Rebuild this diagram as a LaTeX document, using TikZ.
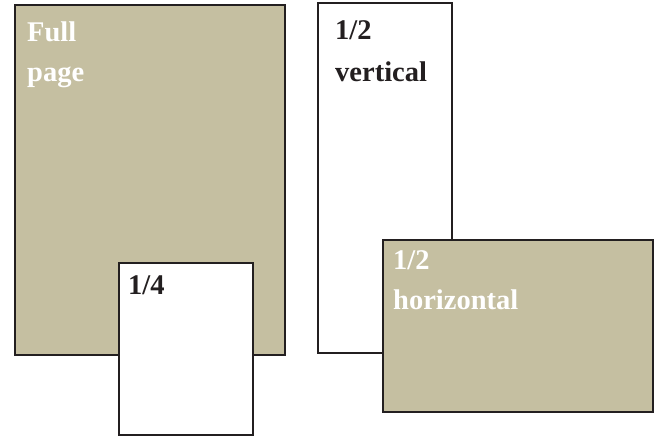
\documentclass[tikz,border=0pt]{standalone}
\usepackage{fontspec}
\setmainfont{Liberation Serif}
\definecolor{tan}{HTML}{C5BFA1}
\definecolor{ink}{HTML}{231F20}
\begin{document}
\begin{tikzpicture}[x=1pt,y=1pt,
  box/.style={draw=ink, line width=2.7pt, inner sep=0pt, outer sep=0pt},
  tanbox/.style={box, fill=tan},
  whitebox/.style={box, fill=white},
  lbl/.style={anchor=base west, inner sep=0pt, font=\fontsize{28.5}{41}\selectfont\bfseries},
  lightlbl/.style={lbl, text=white},
  darklbl/.style={lbl, text=ink}]
\useasboundingbox (0,0) rectangle (657,437);
% full page and quarter
\node[tanbox, minimum width=270pt, minimum height=350pt] (full) at (150,257) {};
\node[lightlbl] (fullA) at (27,395.3) {Full};
\node[lightlbl] (fullB) at (27,355) {page};
\node[whitebox, minimum width=134pt, minimum height=172pt] (quarter) at (186,88) {};
\node[darklbl] (quarterA) at (128,142) {1/4};
% half vertical and half horizontal
\node[whitebox, minimum width=134pt, minimum height=350pt] (vert) at (385,259) {};
\node[darklbl] (vertA) at (335,397) {1/2};
\node[darklbl] (vertB) at (335,355) {vertical};
\node[tanbox, minimum width=270pt, minimum height=172pt] (horiz) at (518,111) {};
\node[lightlbl] (horizA) at (393,167) {1/2};
\node[lightlbl] (horizB) at (393,127) {horizontal};
\end{tikzpicture}
\end{document}
